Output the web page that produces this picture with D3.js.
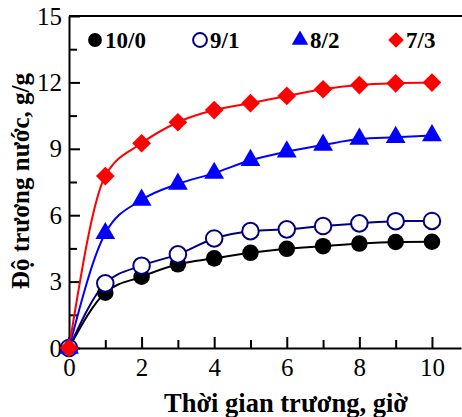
<!DOCTYPE html>
<html>
<head>
<meta charset="utf-8">
<script src="https://cdn.jsdelivr.net/npm/d3@7"></script>
<style>
  body { margin: 0; background: #fff; }
  text { font-family: "Liberation Serif", "Times New Roman", serif; }
</style>
</head>
<body>
<svg id="chart"></svg>
<script>
// swelling time (h)
const hours = [0, 1, 2, 3, 4, 5, 6, 7, 8, 9, 10];
// swelling degree (g/g) per ratio
const s10_0 = [0, 2.5, 3.22, 3.78, 4.05, 4.3, 4.48, 4.6, 4.72, 4.79, 4.8];
const s9_1 = [0, 2.92, 3.72, 4.23, 4.95, 5.28, 5.36, 5.51, 5.63, 5.73, 5.74];
const s8_2 = [0, 5.18, 6.69, 7.41, 7.9, 8.48, 8.87, 9.17, 9.44, 9.52, 9.6];
const s7_3 = [0, 7.77, 9.25, 10.2, 10.75, 11.06, 11.39, 11.69, 11.88, 11.96, 11.99];
const seriesNames = ['10/0', '9/1', '8/2', '7/3'];
const yTicks = [0, 3, 6, 9, 12, 15];
const xTicks = [0, 2, 4, 6, 8, 10];

const width = 462, height = 417;
const svg = d3.select('#chart').attr('width', width).attr('height', height);

const x = d3.scaleLinear().domain([0, 10.8]).range([69, 461]);
const y = d3.scaleLinear().domain([0, 15]).range([348, 16]);

const series = [
  { name: seriesNames[0], values: s10_0, color: '#000000', fill: '#000000', shape: 'circle' },
  { name: seriesNames[1], values: s9_1, color: '#000080', fill: '#ffffff', shape: 'circle' },
  { name: seriesNames[2], values: s8_2, color: '#0000ff', fill: '#0000ff', shape: 'triangle' },
  { name: seriesNames[3], values: s7_3, color: '#ff0000', fill: '#ff0000', shape: 'diamond' }
];

function symbolPath(shape, scale) {
  if (shape === 'circle') return d3.symbol(d3.symbolCircle, 215 * scale)();
  if (shape === 'triangle') return d3.symbol(d3.symbolTriangle, 170 * scale)();
  return d3.symbol(d3.symbolSquare, 175 * scale)();
}

// top frame line
svg.append('line')
  .attr('x1', x(0)).attr('x2', width)
  .attr('y1', y(15)).attr('y2', y(15))
  .attr('stroke', '#000').attr('stroke-width', 2);

// minor ticks
svg.append('g')
  .attr('transform', `translate(0,${y(0)})`)
  .call(d3.axisBottom(x).tickValues([1, 3, 5, 7, 9]).tickSizeInner(-8).tickSizeOuter(0).tickFormat(''))
  .call(g => g.select('.domain').remove())
  .call(g => g.selectAll('line').attr('stroke-width', 2));
svg.append('g')
  .attr('transform', `translate(${x(0)},0)`)
  .call(d3.axisLeft(y).tickValues([1.5, 4.5, 7.5, 10.5, 13.5]).tickSizeInner(-8).tickSizeOuter(0).tickFormat(''))
  .call(g => g.select('.domain').remove())
  .call(g => g.selectAll('line').attr('stroke-width', 2));

// major axes
const xAxis = svg.append('g')
  .attr('transform', `translate(0,${y(0)})`)
  .call(d3.axisBottom(x).tickValues(xTicks).tickSizeInner(-11).tickSizeOuter(0).tickPadding(10));
const yAxis = svg.append('g')
  .attr('transform', `translate(${x(0)},0)`)
  .call(d3.axisLeft(y).tickValues(yTicks).tickSizeInner(-11).tickSizeOuter(0).tickPadding(7));

[xAxis, yAxis].forEach(g => {
  g.select('.domain').attr('stroke-width', 2);
  g.selectAll('line').attr('stroke-width', 2);
  g.selectAll('text')
    .style('font-family', '"Liberation Serif", "Times New Roman", serif')
    .style('font-size', '25px')
    .attr('fill', '#000');
});

// lines and markers
const line = d3.line()
  .x((d, i) => x(hours[i]))
  .y(d => y(d))
  .curve(d3.curveMonotoneX);

for (let s of series) {
  svg.append('path')
    .datum(s.values)
    .attr('d', line)
    .attr('fill', 'none')
    .attr('stroke', s.color)
    .attr('stroke-width', 2);
}
for (let s of series) {
  svg.append('g').selectAll('path')
    .data(s.values)
    .join('path')
    .attr('transform', (d, i) => `translate(${x(hours[i])},${y(d)})` + (s.shape === 'diamond' ? ' rotate(45)' : ''))
    .attr('d', symbolPath(s.shape, 1))
    .attr('fill', s.fill)
    .attr('stroke', s.color)
    .attr('stroke-width', s.shape === 'circle' && s.fill === '#ffffff' ? 2 : 0);
}

// legend
const legendX = [95, 200, 300, 396];
const legend = svg.append('g');
series.forEach((s, i) => {
  legend.append('path')
    .attr('transform', `translate(${legendX[i]},40)` + (s.shape === 'diamond' ? ' rotate(45)' : ''))
    .attr('d', symbolPath(s.shape, 0.7))
    .attr('fill', s.fill)
    .attr('stroke', s.color)
    .attr('stroke-width', s.fill === '#ffffff' ? 2 : 0);
  legend.append('text')
    .attr('x', legendX[i] + 10)
    .attr('y', 48)
    .style('font-size', '23px')
    .style('font-weight', 'bold')
    .text(s.name);
});

// axis titles
svg.append('text')
  .attr('x', 286)
  .attr('y', 412)
  .attr('text-anchor', 'middle')
  .style('font-size', '26.5px')
  .style('font-weight', 'bold')
  .text('Thời gian trương, giờ');

svg.append('text')
  .attr('transform', 'translate(29,181) rotate(-90)')
  .attr('text-anchor', 'middle')
  .style('font-size', '25px')
  .style('font-weight', 'bold')
  .text('Độ trương nước, g/g');
</script>
</body>
</html>
